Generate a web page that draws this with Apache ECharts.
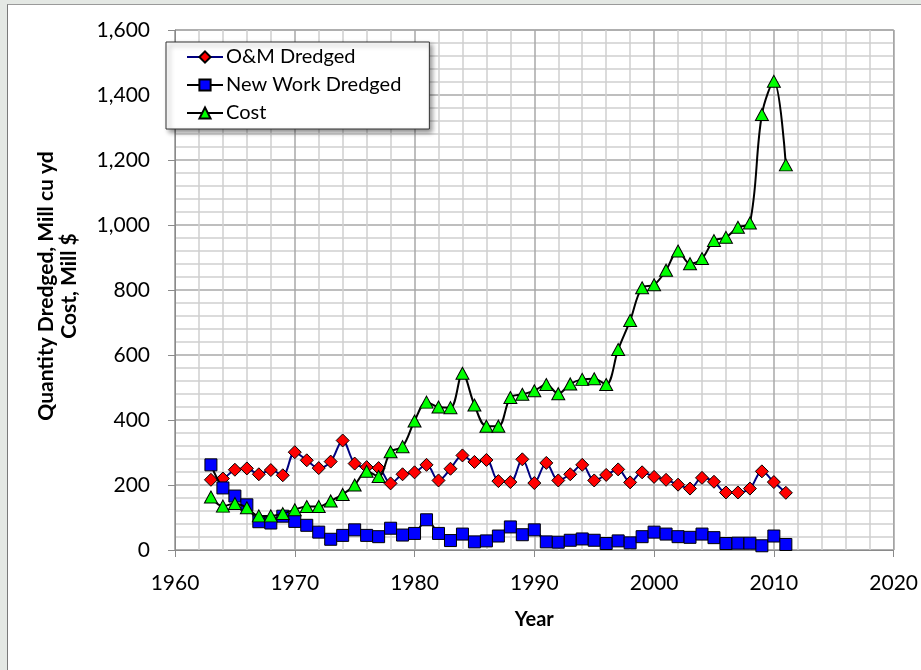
<!DOCTYPE html>
<html>
<head>
<meta charset="utf-8">
<script src="https://cdn.jsdelivr.net/npm/echarts@6/dist/echarts.min.js"></script>
<style>
  html, body { margin: 0; padding: 0; background: #e4e8e4; }
  #frame { position: absolute; left: 7px; top: 4px; width: 914px; height: 666px; background: #ffffff; border-left: 1px solid #7a7a7a; border-top: 1px solid #9a9a9a; }
  #chart { position: absolute; left: -8px; top: -5px; width: 921px; height: 670px; }
</style>
</head>
<body>
<div id="frame"><div id="chart"></div></div>
<script>
const years = [1963,1964,1965,1966,1967,1968,1969,1970,1971,1972,1973,1974,1975,1976,1977,1978,1979,1980,1981,1982,1983,1984,1985,1986,1987,1988,1989,1990,1991,1992,1993,1994,1995,1996,1997,1998,1999,2000,2001,2002,2003,2004,2005,2006,2007,2008,2009,2010,2011];
const omDredged = [216,220,247,251,233,246,230,301,276,252,272,337,266,255,252,205,233,239,262,214,250,291,271,277,212,209,279,206,268,214,233,262,214,231,248,208,239,225,216,201,189,222,210,177,177,189,242,209,176];
const newWorkDredged = [262,191,166,139,87,83,104,88,76,55,33,45,62,45,41,67,46,51,93,51,29,49,25,28,43,71,47,62,25,24,30,34,30,20,28,22,41,55,49,41,39,49,38,20,21,21,13,43,17];
const cost = [163,135,143,130,105,105,112,124,134,134,151,171,200,242,226,302,318,397,455,440,438,544,446,381,381,469,479,490,509,481,511,525,527,509,617,706,807,816,861,920,881,897,952,962,993,1006,1340,1442,1185];
const seriesNames = ['O&M Dredged', 'New Work Dredged', 'Cost'];
const xTicks = [1960, 2020, 10];
const yTicks = [0, 1600, 200];
const yTitle = 'Quantity Dredged, Mill cu yd\nCost, Mill $';
const xTitle = 'Year';

const pairs = (vals) => years.map((y, i) => [y, vals[i]]);
const tickFont = 'Lato';

const chart = echarts.init(document.getElementById('chart'), null, { renderer: 'canvas' });
chart.setOption({
  animation: false,
  backgroundColor: 'transparent',
  grid: { left: 175, right: 24, top: 30, bottom: 120, show: true, borderColor: '#8a8a8a', borderWidth: 1 },
  legend: {
    orient: 'vertical',
    left: 166, top: 42,
    data: seriesNames,
    backgroundColor: '#ffffff',
    borderColor: '#333333', borderWidth: 1,
    padding: [5, 28, 6, 20],
    itemGap: 8, itemWidth: 36, itemHeight: 14,
    shadowBlur: 5, shadowColor: 'rgba(0,0,0,0.45)', shadowOffsetX: 3, shadowOffsetY: 3,
    textStyle: { fontFamily: tickFont, fontSize: 20, color: '#000', padding: [0, 0, 0, -2] }
  },
  xAxis: {
    type: 'value', min: xTicks[0], max: xTicks[1], interval: xTicks[2],
    axisLine: { show: true, lineStyle: { color: '#8a8a8a', width: 1 } },
    axisTick: { show: true, length: 7, lineStyle: { color: '#8a8a8a' } },
    axisLabel: { margin: 23, fontFamily: tickFont, fontSize: 21, color: '#000', formatter: v => String(v) },
    splitLine: { show: true, lineStyle: { color: '#a8a8a8', width: 1.5 } },
    minorTick: { show: false, splitNumber: 5 },
    minorSplitLine: { show: true, lineStyle: { color: '#cfcfcf', width: 1.5 } },
    name: xTitle, nameLocation: 'middle', nameGap: 60,
    nameTextStyle: { fontFamily: tickFont, fontWeight: 'bold', fontSize: 20, color: '#000' }
  },
  yAxis: {
    type: 'value', min: yTicks[0], max: yTicks[1], interval: yTicks[2],
    axisLine: { show: true, lineStyle: { color: '#8a8a8a', width: 1 } },
    axisTick: { show: true, length: 7, inside: false, lineStyle: { color: '#8a8a8a' } },
    axisLabel: { margin: 25, fontFamily: tickFont, fontSize: 21, color: '#000',
      formatter: v => v.toLocaleString('en-US') },
    splitLine: { show: true, lineStyle: { color: '#a8a8a8', width: 1.5 } },
    minorTick: { show: false, splitNumber: 5 },
    minorSplitLine: { show: true, lineStyle: { color: '#cfcfcf', width: 1.5 } }
  },
  graphic: [{
    type: 'text', x: 58, y: 286, rotation: Math.PI / 2,
    style: { text: yTitle, font: 'bold 21px Lato', fill: '#000', align: 'center', verticalAlign: 'middle', lineHeight: 23 }
  }],
  series: [
    {
      name: seriesNames[0], type: 'line', data: pairs(omDredged), smooth: 0.35,
      symbol: 'diamond', symbolSize: 13,
      lineStyle: { color: '#000080', width: 2 },
      itemStyle: { color: '#ff0000', borderColor: '#000', borderWidth: 1 },
      z: 2
    },
    {
      name: seriesNames[1], type: 'line', data: pairs(newWorkDredged), smooth: 0.35,
      symbol: 'rect', symbolSize: 12,
      lineStyle: { color: '#000000', width: 2 },
      itemStyle: { color: '#0000ff', borderColor: '#000', borderWidth: 1 },
      z: 3
    },
    {
      name: seriesNames[2], type: 'line', data: pairs(cost), smooth: 0.35,
      symbol: 'triangle', symbolSize: [13, 12],
      lineStyle: { color: '#000000', width: 2 },
      itemStyle: { color: '#00ff00', borderColor: '#000', borderWidth: 1 },
      z: 4
    }
  ]
});
</script>
</body>
</html>
